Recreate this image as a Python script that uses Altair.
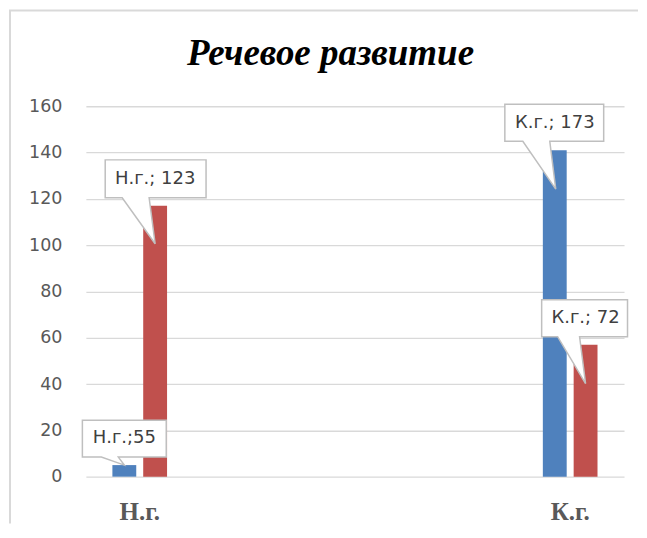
import altair as alt
import pandas as pd

# ---- data ----
categories = ["Н.г.", "К.г."]
series = ["Ряд 1", "Ряд 2"]
values_by_category = {
    "Н.г.": [5, 117],
    "К.г.": [141, 57],
}
label_texts = {
    "Н.г.": ["Н.г.;55", "Н.г.; 123"],
    "К.г.": ["К.г.; 173", "К.г.; 72"],
}
y_ticks = [0, 20, 40, 60, 80, 100, 120, 140, 160]
title_text = "Речевое развитие"

rows = []
for c in categories:
    for i, s in enumerate(series):
        rows.append({"cat": c, "ser": s, "val": values_by_category[c][i],
                     "lab": label_texts[c][i]})
df = pd.DataFrame(rows)

# ---- style ----
BLUE, RED = "#4F81BD", "#C0504D"
GRID = "#d9d9d9"
W, H = 539, 371

# callout geometry (pixels relative to bar top): box x1,x2,y1,y2, pointer base bx1,bx2, tip tx,ty
callouts = {
    "Н.г.;55":   (-42, 42, -45, -8, -23, -6, 0, 0),
    "Н.г.; 123": (-50, 51, -46, -8, -33, -6, 0, 38),
    "К.г.; 173": (-50, 49, -46, -9, -32, -5, 1, 39),
    "К.г.; 72":  (-44, 42, -45, -8, -28, -6, 0, 39),
}

def callout_path(g):
    x1, x2, y1, y2, bx1, bx2, tx, ty = g
    return (f"M {x1} {y1} L {x2} {y1} L {x2} {y2} L {bx2} {y2} "
            f"L {tx} {ty} L {bx1} {y2} L {x1} {y2} Z")

xscale = alt.Scale(domain=categories, paddingInner=0.873, paddingOuter=0.0616)
xoff = alt.Scale(domain=series, paddingInner=0.226, paddingOuter=0)
yscale = alt.Scale(domain=[0, 160], nice=False)

x_enc = alt.X("cat:N", scale=xscale, sort=categories,
              axis=alt.Axis(title=None, labelAngle=0, domain=False, ticks=False,
                            labelFont="Liberation Serif", labelFontWeight="bold",
                            labelFontSize=25, labelColor="#595959", labelPadding=23,
                            grid=False))
xo_enc = alt.XOffset("ser:N", scale=xoff, sort=series)
y_enc = alt.Y("val:Q", scale=yscale,
              axis=alt.Axis(title=None, values=y_ticks, domain=False, ticks=False,
                            labelFont="DejaVu Sans", labelFontSize=17.5,
                            labelColor="#595959", labelPadding=24,
                            grid=True, gridColor=GRID, gridWidth=1.3))

bars = alt.Chart(df).mark_bar().encode(
    x=x_enc, xOffset=xo_enc, y=y_enc,
    color=alt.Color("ser:N", scale=alt.Scale(domain=series, range=[BLUE, RED]), legend=None),
)

layers = [bars]
for lab, g in callouts.items():
    layers.append(
        alt.Chart(df).transform_filter(alt.datum.lab == lab).mark_point(
            shape=callout_path(g), size=4, filled=True, fill="white",
            stroke="#bfbfbf", strokeWidth=1.5, opacity=1,
        ).encode(x=alt.X("cat:N", scale=xscale, sort=categories),
                 xOffset=xo_enc, y=alt.Y("val:Q", scale=yscale))
    )

texts = alt.Chart(df).mark_text(
    font="DejaVu Sans", fontSize=18, color="#404040", baseline="middle",
    align="center", dy=-27,
).encode(x=alt.X("cat:N", scale=xscale, sort=categories), xOffset=xo_enc,
         y=alt.Y("val:Q", scale=yscale), text="lab:N")
layers.append(texts)

one = pd.DataFrame({"k": [0]})
border_v = alt.Chart(one).mark_rule(color=GRID, strokeWidth=2).encode(
    x=alt.value(-76), y=alt.value(-96), y2=alt.value(418))
border_h = alt.Chart(one).mark_rule(color=GRID, strokeWidth=2).encode(
    x=alt.value(-77), x2=alt.value(553), y=alt.value(-96))
layers = [border_v, border_h] + layers

chart = alt.layer(*layers).properties(
    width=W, height=H,
    padding={"left": 0, "top": 1, "right": 0, "bottom": 0},
    title=alt.Title(title_text, font="Liberation Serif", fontSize=37,
                    fontWeight="bold", fontStyle="italic", color="black",
                    anchor="middle", frame="group", dx=-24.5, offset=-93,
                    baseline="alphabetic"),
).configure_view(stroke=None).resolve_scale(x="shared")

chart.save("out.html", embed_options={"renderer": "svg", "actions": False})
